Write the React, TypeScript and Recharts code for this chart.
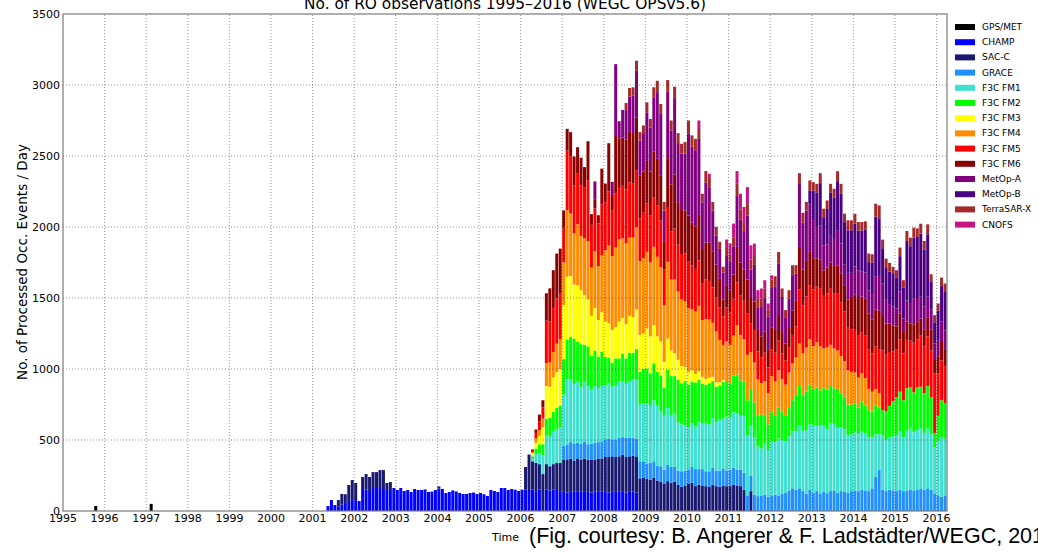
import React from 'react';
import { BarChart, Bar, XAxis, YAxis, ReferenceLine } from 'recharts';

// Months from Jan 1995 (index 0) to Mar 2016 (index 254)
const MONTH_COUNT = 255;

const yearTicks = [1995, 1996, 1997, 1998, 1999, 2000, 2001, 2002, 2003, 2004, 2005, 2006, 2007, 2008, 2009, 2010, 2011, 2012, 2013, 2014, 2015, 2016];
// month index of each January
const januaryIndex = [0, 12, 24, 36, 48, 60, 72, 84, 96, 108, 120, 132, 144, 156, 168, 180, 192, 204, 216, 228, 240, 252];
const valueTicks = [0, 500, 1000, 1500, 2000, 2500, 3000, 3500];

// Each series: first month index and monthly values (occ. events / day)
const gpsMetStart = 9;
const gpsMetValues = [35, 0, 0, 0, 0, 0, 0, 0, 0, 0, 0, 0, 0, 0, 0, 0, 50];

const champStart = 76;
const champValues = [
  35, 77, 42, 30, 45, 56, 70, 77,
  77, 70, 148, 150, 134, 162, 169, 162, 148, 148, 141, 162,
  148, 162, 141, 148, 134, 155, 148, 148, 152, 134, 137, 148,
  158, 155, 127, 134, 145, 138, 127, 120, 120, 127, 130, 120,
  127, 118, 106, 148, 141, 134, 162, 162, 148, 155, 150, 141,
  150, 150, 148, 150, 140, 150, 0, 150, 145, 150, 148, 140,
  140, 130, 140, 135, 140, 135, 140, 140, 130, 135, 140, 135,
  140, 130, 140, 140, 135, 140, 130, 140, 135, 130,
];

const sacCStart = 79;
const sacCValues = [
  47, 75, 62, 113, 141,
  120, 0, 92, 110, 106, 112, 105, 126, 140, 49, 63, 0,
  0, 0, 0, 0, 0, 0, 0, 0, 0, 0, 0, 0,
  15, 0, 0, 0, 0, 0, 0, 0, 0, 0, 0, 0,
  0, 0, 0, 0, 0, 0, 0, 0, 0, 0, 0, 0,
  0, 160, 250, 200, 200, 180, 260, 180, 170, 180, 190, 200,
  220, 229, 230, 220, 230, 225, 230, 220, 230, 225, 230, 235,
  240, 250, 245, 240, 250, 255, 250, 245, 255, 250, 230, 235,
  225, 220, 235, 215, 205, 190, 210, 200, 205, 185, 170, 180,
  190, 200, 175, 185, 180, 175, 170, 185, 175, 170, 180, 175,
  175, 185, 180, 175, 150, 0, 140,
];

const graceStart = 144;
const graceValues = [
  100, 110, 115, 120, 110, 115, 120, 110, 115, 120, 115, 120,
  125, 130, 120, 125, 130, 125, 135, 130, 125, 130, 120, 115,
  110, 120, 115, 105, 110, 100, 115, 110, 105, 100, 110, 105,
  100, 110, 120, 110, 115, 105, 110, 120, 110, 115, 120, 110,
  115, 120, 110, 115, 120, 110, 110, 115, 105, 110, 115, 100,
  110, 115, 110, 120, 130, 145, 160, 150, 160, 140, 120, 150,
  130, 140, 120, 135, 125, 140, 145, 130, 140, 135, 130, 140,
  145, 140, 150, 145, 140, 160, 240, 290, 150, 140, 150, 145,
  140, 150, 140, 145, 150, 145, 150, 155, 150, 160, 150, 120,
  110, 100, 110,
];

const fm1Start = 135;
const fm1Values = [
  20, 60, 80, 130, 200, 210, 230, 240, 250,
  360, 456, 440, 420, 430, 400, 420, 410, 380, 400, 380, 390,
  380, 390, 370, 380, 400, 390, 380, 400, 410, 420, 400, 410,
  420, 400, 430, 420, 390, 380, 400, 360, 380, 340, 330, 320,
  300, 310, 300, 330, 320, 340, 330, 350, 340, 360, 350, 380,
  370, 390, 400, 380, 400, 420, 350, 400, 350, 330, 360, 330,
  380, 370, 400, 380, 360, 380, 400, 410, 440, 420, 450, 460,
  470, 460, 480, 470, 450, 480, 470, 460, 450, 440, 400, 400,
  410, 400, 410, 400, 380, 360, 300, 250, 380, 360, 370, 380,
  390, 410, 380, 420, 430, 410, 420, 430, 400, 420, 390, 330,
  380, 420, 400,
];

const fm2Start = 135;
const fm2Values = [
  15, 40, 60, 80, 120, 130, 140, 150, 150,
  250, 281, 300, 320, 280, 300, 260, 280, 240, 250, 220, 240,
  200, 180, 170, 190, 160, 200, 180, 200, 190, 210, 230, 240,
  250, 230, 260, 240, 250, 200, 270, 280, 260, 300, 290, 310,
  300, 290, 310, 300, 280, 270, 290, 260, 250, 240, 260, 250,
  240, 260, 270, 250, 240, 250, 260, 250, 220, 240, 200, 180,
  210, 190, 220, 200, 180, 200, 220, 250, 280, 260, 270, 280,
  260, 270, 250, 260, 280, 260, 250, 270, 240, 230, 220, 210,
  200, 190, 210, 200, 190, 180, 200, 190, 180, 200, 220, 250,
  270, 280, 260, 300, 290, 280, 300, 290, 280, 300, 260, 100,
  180, 260, 250,
];

const fm3Start = 135;
const fm3Values = [
  20, 40, 60, 120, 230, 220, 240, 250, 260,
  380, 444, 430, 380, 400, 380, 350, 330, 280, 300, 260, 280,
  250, 240, 230, 220, 260, 250, 240, 260, 250, 280, 260, 250,
  280, 260, 270, 250, 240, 180, 220, 180, 160, 140, 120, 100,
  90, 80, 60, 60, 50, 40, 40, 30, 30, 20, 10,
];

const fm4Start = 135;
const fm4Values = [
  10, 30, 40, 60, 160, 170, 180, 200, 210,
  300, 468, 440, 360, 430, 380, 400, 410, 340, 400, 380, 400,
  500, 550, 520, 560, 580, 560, 570, 550, 560, 580, 520, 530,
  540, 520, 550, 560, 520, 400, 540, 500, 520, 480, 470, 460,
  450, 430, 440, 460, 400, 420, 410, 380, 360, 300, 250, 280,
  270, 280, 350, 320, 300, 320, 260, 280, 250, 220, 240, 220,
  250, 240, 260, 230, 220, 250, 260, 270, 300, 290, 310, 320,
  300, 320, 310, 280, 300, 290, 280, 270, 260, 250, 240, 230,
  220, 210, 200, 190, 150, 140, 120, 100,
];

const fm5Start = 135;
const fm5Values = [
  15, 40, 60, 80, 300, 290, 310, 320, 320,
  250, 421, 400, 340, 360, 360, 360, 430, 300, 300, 300, 360,
  340, 380, 320, 380, 360, 370, 380, 390, 380, 400, 300, 320,
  340, 330, 350, 360, 330, 250, 380, 340, 360, 330, 320, 340,
  330, 310, 300, 320, 260, 280, 270, 250, 240, 230, 200, 240,
  230, 260, 300, 280, 270, 290, 200, 230, 200, 180, 200, 180,
  190, 200, 210, 180, 170, 180, 200, 220, 380, 340, 360, 380,
  400, 390, 410, 370, 380, 400, 390, 400, 380, 350, 300, 300,
  300, 300, 290, 300, 280, 270, 300, 310, 420, 400, 380, 350,
  340, 370, 330, 340, 330, 350, 340, 360, 330, 350, 330, 420,
  300, 280, 260,
];

const fm6Start = 135;
const fm6Values = [
  4, 24, 49, 50, 193, 233, 266, 315, 318,
  117, 152, 173, 202, 182, 193, 142, 274, 75, 61, 58, 251,
  131, 340, 103, 412, 350, 340, 350, 360, 350, 370, 300, 290,
  300, 310, 320, 330, 320, 200, 350, 330, 380, 300, 310, 300,
  320, 300, 300, 320, 240, 260, 270, 250, 230, 200, 120, 150,
  150, 170, 250, 230, 220, 240, 180, 200, 150, 150, 150, 130,
  150, 160, 180, 150, 120, 140, 170, 180, 300, 250, 250, 240,
  220, 200, 200, 180, 180, 180, 190, 200, 200, 180, 200, 220,
  250, 260, 250, 260, 250, 240, 260, 270, 250, 220, 200, 180,
  160, 180, 150, 130, 120, 130, 120, 120, 120, 130, 150, 100,
  120, 130, 120,
];

const metopAStart = 153;
const metopAValues = [
  130, 0, 0,
  0, 0, 100, 500, 120, 194, 208, 244, 269, 331, 248, 265,
  343, 311, 384, 470, 431, 216, 470, 380, 538, 416, 396, 403,
  580, 535, 536, 535, 329, 424, 385, 291, 206, 211, 190, 217,
  204, 199, 364, 304, 271, 451, 201, 258, 160, 207, 240, 231,
  280, 308, 364, 247, 185, 200, 251, 191, 449, 330, 356, 328,
  276, 214, 239, 174, 162, 194, 184, 243, 214, 149, 187, 177,
  198, 195, 175, 185, 163, 178, 234, 252, 221, 167, 137, 134,
  125, 155, 95, 147, 145, 180, 170, 158, 162, 149, 137, 109,
  121, 144, 132,
];

const metopBStart = 215;
const metopBValues = [
  100,
  200, 250, 300, 200, 250, 300, 300, 350, 350, 300, 300, 300,
  300, 280, 290, 300, 200, 220, 420, 400, 250, 230, 230, 230,
  220, 250, 220, 420, 400, 430, 430, 440, 400, 440, 200, 150,
  200, 250, 270,
];

const terraSarXStart = 162;
const terraSarXValues = [
  50, 60, 60, 70, 60, 60,
  70, 60, 70, 80, 70, 60, 80, 70, 80, 70, 70, 80,
  90, 80, 80, 70, 60, 80, 70, 60, 60, 50, 40, 50,
  50, 60, 80, 70, 70, 80, 70, 70, 60, 60, 60, 50,
  60, 70, 80, 60, 50, 60, 70, 60, 70, 70, 60, 70,
  60, 60, 70, 60, 60, 60, 60, 70, 70, 60, 70, 70,
  70, 60, 60, 60, 60, 60, 90, 90, 60, 60, 60, 50,
  50, 60, 50, 70, 60, 70, 60, 70, 60, 70, 50, 50,
  50, 60, 60,
];

const cnofsStart = 183;
const cnofsValues = [
  60, 0, 0, 30, 0, 0, 0, 0, 60,
  80, 100, 90, 110, 100, 120, 100, 80, 60, 70, 60, 40,
  30,
];

const series = [
  { key: 'gpsmet', name: 'GPS/MET', color: '#000000', start: gpsMetStart, values: gpsMetValues },
  { key: 'champ', name: 'CHAMP', color: '#0000ff', start: champStart, values: champValues },
  { key: 'sacc', name: 'SAC-C', color: '#191970', start: sacCStart, values: sacCValues },
  { key: 'grace', name: 'GRACE', color: '#1e90ff', start: graceStart, values: graceValues },
  { key: 'fm1', name: 'F3C FM1', color: '#40e0d0', start: fm1Start, values: fm1Values },
  { key: 'fm2', name: 'F3C FM2', color: '#00ff00', start: fm2Start, values: fm2Values },
  { key: 'fm3', name: 'F3C FM3', color: '#ffff00', start: fm3Start, values: fm3Values },
  { key: 'fm4', name: 'F3C FM4', color: '#ff8c00', start: fm4Start, values: fm4Values },
  { key: 'fm5', name: 'F3C FM5', color: '#ff0000', start: fm5Start, values: fm5Values },
  { key: 'fm6', name: 'F3C FM6', color: '#8b0000', start: fm6Start, values: fm6Values },
  { key: 'metopa', name: 'MetOp-A', color: '#800080', start: metopAStart, values: metopAValues },
  { key: 'metopb', name: 'MetOp-B', color: '#4b0082', start: metopBStart, values: metopBValues },
  { key: 'tsx', name: 'TerraSAR-X', color: '#a52a2a', start: terraSarXStart, values: terraSarXValues },
  { key: 'cnofs', name: 'CNOFS', color: '#c71585', start: cnofsStart, values: cnofsValues },
];

const table = Array.from({ length: MONTH_COUNT }, (_, m) => {
  const row: Record<string, number> = { m };
  for (const s of series) {
    const i = m - s.start;
    row[s.key] = i >= 0 && i < s.values.length ? s.values[i] : 0;
  }
  return row;
});

const yearOfJanuary = (m: number) => String(yearTicks[januaryIndex.indexOf(m)]);

const FONT = "'DejaVu Sans', sans-serif";
const gridStyle = { stroke: '#333', strokeWidth: 0.7, strokeDasharray: '1 2', strokeOpacity: 0.75 };

export default function App() {
  return (
    <div style={{ position: 'absolute', left: 0, top: 0, width: 1038, height: 553, background: '#fff', overflow: 'hidden', fontFamily: FONT }}>
      <BarChart
        width={1038}
        height={553}
        data={table}
        margin={{ top: 14, right: 91, bottom: 22, left: 0 }}
        barCategoryGap={0}
        barGap={0}
      >
        <XAxis
          xAxisId="cat"
          dataKey="m"
          ticks={januaryIndex}
          tickFormatter={yearOfJanuary}
          interval={0}
          tickLine={false}
          axisLine={false}
          tickSize={0}
          tickMargin={3}
          height={20}
          tick={{ fontSize: 11, fill: '#000', fontFamily: FONT, dx: -1.73 }}
        />
        <YAxis
          domain={[0, 3500]}
          ticks={valueTicks}
          allowDataOverflow
          interval={0}
          tickLine={false}
          axisLine={false}
          tickSize={0}
          tickMargin={3}
          width={63}
          tick={{ fontSize: 11, fill: '#000', fontFamily: FONT }}
        />
        {series.map((s) => (
          <Bar
            key={s.key}
            xAxisId="cat"
            dataKey={s.key}
            name={s.name}
            stackId="obs"
            fill={s.color}
            isAnimationActive={false}
          />
        ))}
        {januaryIndex.slice(1).map((m) => (
          <ReferenceLine key={'vx' + m} xAxisId="cat" x={m} position="start" {...gridStyle} />
        ))}
        {valueTicks.slice(1, -1).map((v) => (
          <ReferenceLine key={'hy' + v} xAxisId="cat" y={v} {...gridStyle} />
        ))}
      </BarChart>
      <svg width={1038} height={553} style={{ position: 'absolute', left: 0, top: 0, pointerEvents: 'none' }}>
        <rect x={63} y={14} width={884} height={497} fill="none" stroke="#7a7a7a" strokeWidth={1.2} />
        <text x={505} y={9} textAnchor="middle" fontSize={15.4} fontFamily={FONT} fill="#000">
          No. of RO observations 1995–2016 (WEGC OPSv5.6)
        </text>
        <text transform="translate(27,262) rotate(-90)" textAnchor="middle" fontSize={13.5} fontFamily={FONT} fill="#000">
          No. of Processed Occ. Events / Day
        </text>
        <text x={492} y={541} fontSize={11} fontFamily={FONT} fill="#000">Time</text>
        <text x={529} y={543} fontSize={21.5} fontFamily="'Liberation Sans', Arial, sans-serif" fill="#000">
          (Fig. courtesy: B. Angerer &amp; F. Ladstädter/WEGC, 2016)
        </text>
        {series.map((s, i) => (
          <g key={'lg' + s.key}>
            <rect x={955} y={24 + i * 15.2} width={20} height={6} fill={s.color} />
            <text x={982} y={27 + i * 15.2} dominantBaseline="central" fontSize={9} fontFamily={FONT} fill="#000">
              {s.name}
            </text>
          </g>
        ))}
      </svg>
    </div>
  );
}
